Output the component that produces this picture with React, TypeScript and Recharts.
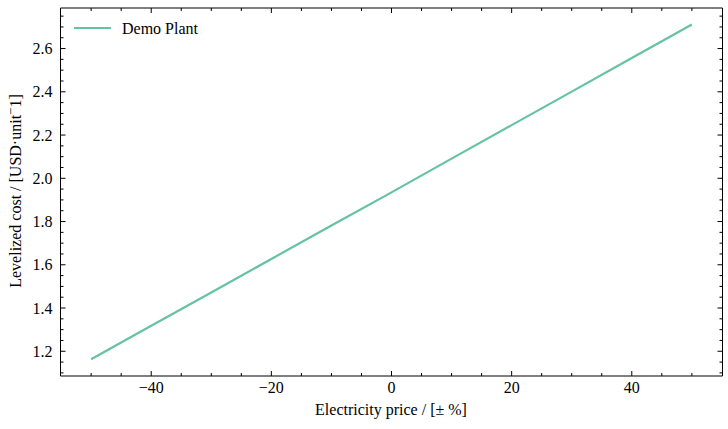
import React from "react";
import { LineChart, Line, XAxis, YAxis } from "recharts";

const priceChange = [-50, -40, -30, -20, -10, 0, 10, 20, 30, 40, 50];
const levelizedCost = [1.163, 1.318, 1.472, 1.627, 1.782, 1.935, 2.091, 2.246, 2.401, 2.556, 2.711];
const seriesName = "Demo Plant";

const xMajorTicks = [-40, -20, 0, 20, 40];
const xMinorTicks = [-50, -45, -35, -30, -25, -15, -10, -5, 5, 10, 15, 25, 30, 35, 45, 50];
const yMajorTicks = [1.2, 1.4, 1.6, 1.8, 2.0, 2.2, 2.4, 2.6];
const yMinorTicks = [1.1, 1.15, 1.25, 1.3, 1.35, 1.45, 1.5, 1.55, 1.65, 1.7, 1.75, 1.85, 1.9, 1.95, 2.05, 2.1, 2.15, 2.25, 2.3, 2.35, 2.45, 2.5, 2.55, 2.65, 2.7, 2.75];

const xLabel = "Electricity price / [\u00B1 %]";

const data = priceChange.map((p, i) => ({ price: p, cost: levelizedCost[i] }));

const FONT = "'Liberation Serif', 'DejaVu Serif', serif";
const COLOR = "#66c2a5";
const MAJOR = 5;
const MINOR = 3;

const xTicks = [...xMajorTicks, ...xMinorTicks].sort((a, b) => a - b);
const yTicks = [...yMajorTicks, ...yMinorTicks].sort((a, b) => a - b);

const isXMajor = (v: number) => xMajorTicks.some((t) => Math.abs(t - v) < 1e-9);
const isYMajor = (v: number) => yMajorTicks.some((t) => Math.abs(t - v) < 1e-9);
const fmtX = (v: number) => (v < 0 ? "\u2212" + Math.abs(v) : String(v));

const BottomTick = (props: any) => {
  const { x, y, payload } = props;
  const major = isXMajor(payload.value);
  return (
    <g>
      <line x1={x} x2={x} y1={y} y2={y - (major ? MAJOR : MINOR)} stroke="#000" strokeWidth={1} />
      {major && (
        <text x={x} y={y + 17} textAnchor="middle" style={{ fontFamily: FONT }} fontSize={16} fill="#000">
          {fmtX(payload.value)}
        </text>
      )}
    </g>
  );
};

const TopTick = (props: any) => {
  const { x, y, payload } = props;
  const major = isXMajor(payload.value);
  return <line x1={x} x2={x} y1={y} y2={y + (major ? MAJOR : MINOR)} stroke="#000" strokeWidth={1} />;
};

const LeftTick = (props: any) => {
  const { x, y, payload } = props;
  const major = isYMajor(payload.value);
  return (
    <g>
      <line x1={x} x2={x + (major ? MAJOR : MINOR)} y1={y} y2={y} stroke="#000" strokeWidth={1} />
      {major && (
        <text x={x - 8} y={y} dy="0.35em" textAnchor="end" style={{ fontFamily: FONT }} fontSize={16} fill="#000">
          {payload.value.toFixed(1)}
        </text>
      )}
    </g>
  );
};

const RightTick = (props: any) => {
  const { x, y, payload } = props;
  const major = isYMajor(payload.value);
  return <line x1={x} x2={x - (major ? MAJOR : MINOR)} y1={y} y2={y} stroke="#000" strokeWidth={1} />;
};

const axisLine = { stroke: "#000", strokeWidth: 1 };

export default function App() {
  return (
    <div style={{ position: "absolute", left: 0, top: 0, width: 728, height: 429, background: "#fff" }}>
      <LineChart
        width={728}
        height={429}
        data={data}
        margin={{ top: 7, right: 4.5, bottom: 52, left: 59.5 }}
      >
        <XAxis
          xAxisId="bottom"
          dataKey="price"
          type="number"
          domain={[-55.1, 55.1]}
          ticks={xTicks}
          interval={0}
          height={1}
          tickSize={0}
          tickMargin={0}
          tickLine={false}
          axisLine={axisLine}
          tick={BottomTick}
          orientation="bottom"
          allowDataOverflow
        />
        <XAxis
          xAxisId="top"
          dataKey="price"
          type="number"
          domain={[-55.1, 55.1]}
          ticks={xTicks}
          interval={0}
          height={1}
          tickSize={0}
          tickMargin={0}
          tickLine={false}
          axisLine={axisLine}
          tick={TopTick}
          orientation="top"
          allowDataOverflow
        />
        <YAxis
          yAxisId="left"
          type="number"
          domain={[1.0856, 2.7876]}
          ticks={yTicks}
          interval={0}
          width={1}
          tickSize={0}
          tickMargin={0}
          tickLine={false}
          axisLine={axisLine}
          tick={LeftTick}
          orientation="left"
          allowDataOverflow
        />
        <YAxis
          yAxisId="right"
          type="number"
          domain={[1.0856, 2.7876]}
          ticks={yTicks}
          interval={0}
          width={1}
          tickSize={0}
          tickMargin={0}
          tickLine={false}
          axisLine={axisLine}
          tick={RightTick}
          orientation="right"
          allowDataOverflow
        />
        <Line
          xAxisId="bottom"
          yAxisId="left"
          type="linear"
          dataKey="cost"
          name={seriesName}
          stroke={COLOR}
          strokeWidth={2.2}
          dot={false}
          activeDot={false}
          isAnimationActive={false}
        />
      </LineChart>
      <svg
        width={728}
        height={429}
        style={{ position: "absolute", left: 0, top: 0, pointerEvents: "none", fontFamily: FONT }}
      >
        <line x1={74} x2={111} y1={28} y2={28} stroke={COLOR} strokeWidth={2.2} />
        <text x={122} y={33.5} fontSize={16} fill="#000">
          {seriesName}
        </text>
        <text x={391} y={415} textAnchor="middle" fontSize={16} fill="#000">
          Electricity price / [{"\u00B1"} %]
        </text>
        <text
          x={0}
          y={0}
          transform="translate(21 191) rotate(-90)"
          textAnchor="middle"
          fontSize={16}
          fill="#000"
        >
          Levelized cost / [USD·unit
          <tspan fontSize={13} dy={-6}>{"\u2212"}</tspan>
          <tspan dy={6}>1]</tspan>
        </text>
      </svg>
    </div>
  );
}
